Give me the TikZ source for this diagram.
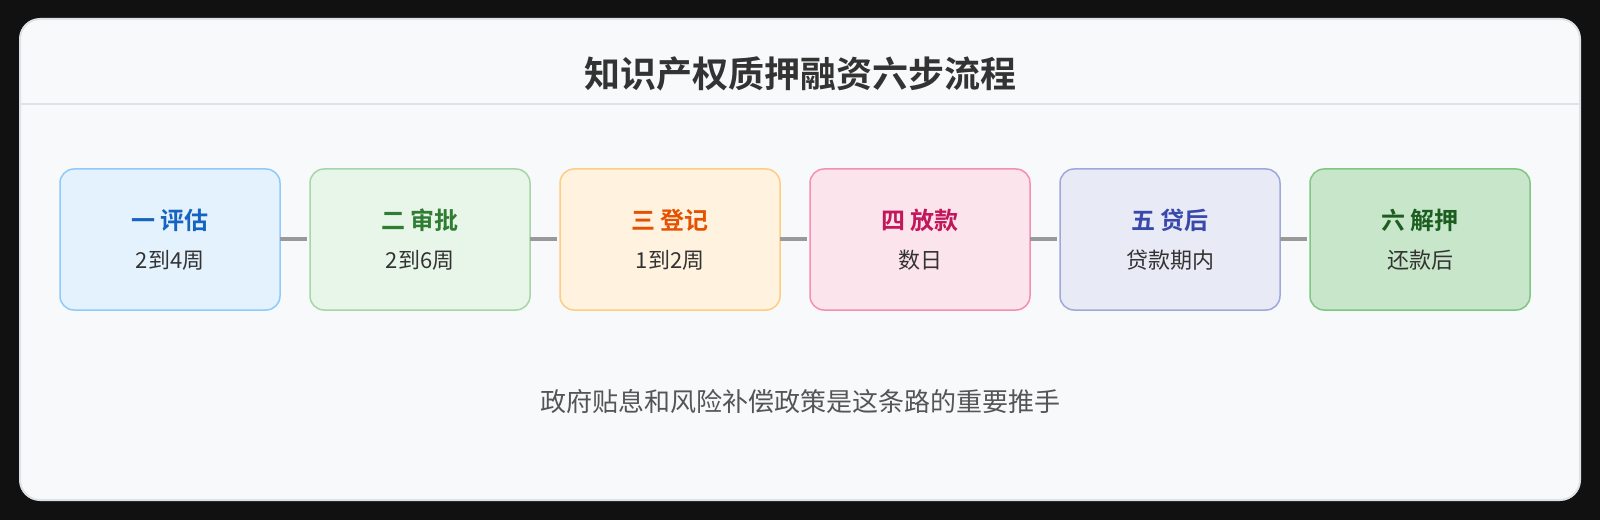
\documentclass[tikz,border=0pt]{standalone}
\usepackage{fontspec}
\setmainfont{Noto Sans CJK SC}[BoldFont={Noto Sans CJK SC Bold}]
\usepackage{xcolor}
\usetikzlibrary{positioning}

\definecolor{pagebg}{HTML}{111111}
\definecolor{cardbg}{HTML}{F8F9FA}
\definecolor{cardline}{HTML}{DEE2E6}
\definecolor{textdark}{HTML}{333333}
\definecolor{textsoft}{HTML}{555555}
\definecolor{linkgray}{HTML}{999999}

\definecolor{bluefill}{HTML}{E3F2FD}\definecolor{blueline}{HTML}{90CAF9}\definecolor{bluetext}{HTML}{1565C0}
\definecolor{greenfill}{HTML}{E8F5E9}\definecolor{greenline}{HTML}{A5D6A7}\definecolor{greentext}{HTML}{2E7D32}
\definecolor{orangefill}{HTML}{FFF3E0}\definecolor{orangeline}{HTML}{FFCC80}\definecolor{orangetext}{HTML}{E65100}
\definecolor{pinkfill}{HTML}{FCE4EC}\definecolor{pinkline}{HTML}{F48FB1}\definecolor{pinktext}{HTML}{C2185B}
\definecolor{indigofill}{HTML}{E8EAF6}\definecolor{indigoline}{HTML}{9FA8DA}\definecolor{indigotext}{HTML}{3949AB}
\definecolor{leaffill}{HTML}{C8E6C9}\definecolor{leafline}{HTML}{81C784}\definecolor{leaftext}{HTML}{1B5E20}

\newcommand{\steptext}[3]{{\fontsize{24}{28}\selectfont\bfseries\color{#1}#2}\\[13pt]#3}

\begin{document}
\begin{tikzpicture}[
    x=1pt, y=1pt,
    node distance=30pt,
    stepbox/.style={draw, rounded corners=14pt, line width=1.5pt, minimum width=220pt, minimum height=141pt,
        align=center, inner sep=0pt, outer sep=0pt, text=textdark, font=\fontsize{22}{26}\selectfont},
    link/.style={draw=linkgray, line width=4pt, shorten >=3pt}
]
    % Background and card
    \fill[pagebg] (0,0) rectangle (1600,520);
    \draw[cardbg, fill=cardbg, rounded corners=20pt] (20,20) rectangle (1580,501);
    \draw[cardline, line width=2pt, rounded corners=20pt] (20,20) rectangle (1580,501);
    \draw[cardline, line width=2pt] (21,416) -- (1579,416);

    % Title
    \node[font=\fontsize{36}{40}\selectfont\bfseries, text=textdark] (title) at (800,446) {知识产权质押融资六步流程};

    % Steps
    \node[stepbox, fill=bluefill, draw=blueline] (s1) at (170,280.5) {\steptext{bluetext}{一 评估}{2到4周}};
    \node[stepbox, fill=greenfill, draw=greenline, right=of s1] (s2) {\steptext{greentext}{二 审批}{2到6周}};
    \node[stepbox, fill=orangefill, draw=orangeline, right=of s2] (s3) {\steptext{orangetext}{三 登记}{1到2周}};
    \node[stepbox, fill=pinkfill, draw=pinkline, right=of s3] (s4) {\steptext{pinktext}{四 放款}{数日}};
    \node[stepbox, fill=indigofill, draw=indigoline, right=of s4] (s5) {\steptext{indigotext}{五 贷后}{贷款期内}};
    \node[stepbox, fill=leaffill, draw=leafline, right=of s5] (s6) {\steptext{leaftext}{六 解押}{还款后}};

    % Connections
    \draw[link] (s1) -- (s2);
    \draw[link] (s2) -- (s3);
    \draw[link] (s3) -- (s4);
    \draw[link] (s4) -- (s5);
    \draw[link] (s5) -- (s6);

    % Note
    \node[font=\fontsize{26}{30}\selectfont, text=textsoft] (note) at (800,118) {政府贴息和风险补偿政策是这条路的重要推手};
\end{tikzpicture}
\end{document}
